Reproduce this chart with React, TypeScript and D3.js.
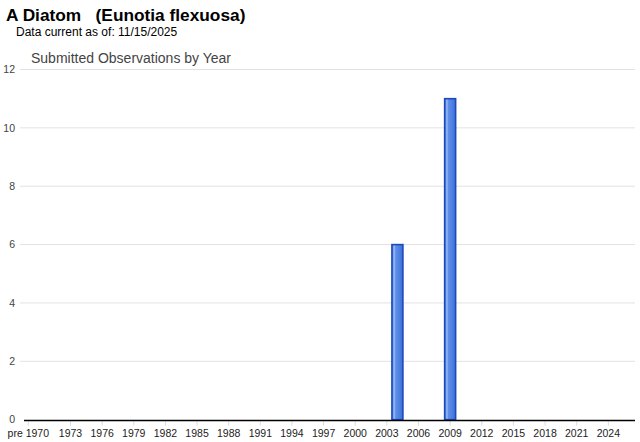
import React from "react";
import * as d3 from "d3";

const title = "A Diatom   (Eunotia flexuosa)";
const subtitle = "Data current as of: 11/15/2025";
const chartTitle = "Submitted Observations by Year";

const barYears = [2004, 2009];
const barValues = [6, 11];

const yTicks = [0, 2, 4, 6, 8, 10, 12];
const xTickYears = [1969, 1973, 1976, 1979, 1982, 1985, 1988, 1991, 1994, 1997, 2000, 2003, 2006, 2009, 2012, 2015, 2018, 2021, 2024];
const xTickLabels = ["pre 1970", "1973", "1976", "1979", "1982", "1985", "1988", "1991", "1994", "1997", "2000", "2003", "2006", "2009", "2012", "2015", "2018", "2021", "2024"];

const W = 640;
const H = 442;
const plotLeft = 24;
const plotRight = 635;
const plotTop = 69.5;
const plotBottom = 419.7;

export default function App() {
  const x = d3.scaleLinear().domain([1968.59, 2026.53]).range([plotLeft, plotRight]);
  const y = d3.scaleLinear().domain([0, 12]).range([plotBottom, plotTop]);
  const step = x(1) - x(0);
  const bw = step * 1.04;
  const font = "'Liberation Sans', Arial, sans-serif";

  return (
    <svg width={W} height={H} style={{ position: "absolute", left: 0, top: 0, background: "#fff" }} fontFamily={font}>
      <defs>
        <linearGradient id="barGrad" x1="0" x2="1" y1="0" y2="0">
          <stop offset="0" stopColor="#3a6fd8" />
          <stop offset="0.2" stopColor="#9dbcf4" />
          <stop offset="0.35" stopColor="#5e8ee6" />
          <stop offset="0.75" stopColor="#4a7de0" />
          <stop offset="1" stopColor="#3b6ed6" />
        </linearGradient>
      </defs>
      <rect x={0} y={0} width={W} height={H} fill="#fff" />
      <text x={6} y={21} fontSize={17.3} fontWeight="bold" fill="#000" style={{ whiteSpace: "pre" }}>{title}</text>
      <text x={16} y={36} fontSize={12} fill="#000">{subtitle}</text>
      <text x={31} y={63} fontSize={14} fill="#444">{chartTitle}</text>

      {yTicks.map((t) => (
        <g key={"y" + t}>
          {t !== 0 && (
            <line x1={20} x2={plotRight} y1={y(t)} y2={y(t)} stroke="#e2e2e2" strokeWidth={1} />
          )}
          <text x={15} y={y(t)} dy="0.35em" textAnchor="end" fontSize={10.5} fill="#444">{t}</text>
        </g>
      ))}

      {xTickYears.map((yr, i) => (
        <g key={"x" + yr}>
          <line x1={x(yr)} x2={x(yr)} y1={plotBottom + 1} y2={plotBottom + 6} stroke="#ddd" strokeWidth={1} />
          <text x={x(yr)} y={437} textAnchor="middle" fontSize={10.5} fill="#222">{xTickLabels[i]}</text>
        </g>
      ))}

      {barYears.map((yr, i) => (
        <rect
          key={"b" + yr}
          x={x(yr) - bw / 2}
          y={y(barValues[i])}
          width={bw}
          height={y(0) - y(barValues[i])}
          fill="url(#barGrad)"
          stroke="#1c4abb"
          strokeWidth={1.6}
        />
      ))}

      <line x1={plotLeft} x2={plotRight} y1={plotBottom + 0.8} y2={plotBottom + 0.8} stroke="#000" strokeWidth={1.5} />
    </svg>
  );
}
